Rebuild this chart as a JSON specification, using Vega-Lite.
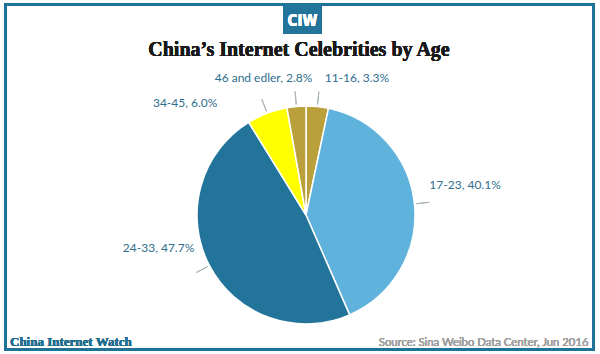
{
  "$schema": "https://vega.github.io/schema/vega-lite/v6.json",
  "width": 600,
  "height": 354,
  "autosize": {"type": "fit", "contains": "padding"},
  "padding": {"left": 3.5, "right": 4.5, "top": 2.5, "bottom": 2.5},
  "background": "white",
  "config": {"view": {"stroke": null}},
  "data": {
    "values": [
      {"age": "11-16", "value": 3.3, "label": "11-16, 3.3%"},
      {"age": "17-23", "value": 40.1, "label": "17-23, 40.1%"},
      {"age": "24-33", "value": 47.7, "label": "24-33, 47.7%"},
      {"age": "34-45", "value": 6.0, "label": "34-45, 6.0%"},
      {"age": "46 and edler", "value": 2.8, "label": "46 and edler, 2.8%"}
    ]
  },
  "layer": [
    {
      "mark": {"type": "rect", "fill": null, "stroke": "#1f7399", "strokeWidth": 3,
               "x": 0, "x2": {"expr": "width"}, "y": 0, "y2": {"expr": "height"}},
      "encoding": {}
    },
    {
      "mark": {"type": "arc", "radius": 109, "stroke": "white", "strokeWidth": 1.5,
               "x": {"expr": "width/2 + 6.5"}, "y": {"expr": "height/2 + 38"}},
      "encoding": {
        "theta": {"field": "value", "type": "quantitative", "stack": true},
        "color": {
          "field": "age", "type": "nominal", "legend": null,
          "scale": {
            "domain": ["11-16", "17-23", "24-33", "34-45", "46 and edler"],
            "range": ["#b9a03b", "#5fb2dc", "#22749a", "#ffff00", "#b9a03b"]
          }
        }
      }
    },
    {
      "mark": {"type": "arc", "radius": 124, "radius2": 111, "padAngle": 3, "filled": false,
               "stroke": "#a8b4ba", "strokeWidth": 1,
               "x": {"expr": "width/2 + 6.5"}, "y": {"expr": "height/2 + 38"}},
      "encoding": {
        "theta": {"field": "value", "type": "quantitative", "stack": true}
      }
    },
    {
      "mark": {"type": "text", "radius": 132, "align": "left", "baseline": "middle", "dx": 5, "dy": -6,
               "font": "Lato", "fontSize": 12, "fill": "#2f6e8e",
               "x": {"expr": "width/2 + 6.5"}, "y": {"expr": "height/2 + 38"}},
      "encoding": {
        "theta": {"field": "value", "type": "quantitative", "stack": true},
        "text": {"condition": {"test": "datum.age === '11-16'", "field": "label"}, "value": ""}
      }
    },
    {
      "mark": {"type": "text", "radius": 132, "align": "right", "baseline": "middle", "dx": 18, "dy": -6,
               "font": "Lato", "fontSize": 12, "fill": "#2f6e8e",
               "x": {"expr": "width/2 + 6.5"}, "y": {"expr": "height/2 + 38"}},
      "encoding": {
        "theta": {"field": "value", "type": "quantitative", "stack": true},
        "text": {"condition": {"test": "datum.age === '46 and edler'", "field": "label"}, "value": ""}
      }
    },
    {
      "mark": {"type": "text", "radius": 125, "align": "right", "baseline": "middle", "dx": -44, "dy": 5,
               "font": "Lato", "fontSize": 12, "fill": "#2f6e8e",
               "x": {"expr": "width/2 + 6.5"}, "y": {"expr": "height/2 + 38"}},
      "encoding": {
        "theta": {"field": "value", "type": "quantitative", "stack": true},
        "text": {"condition": {"test": "datum.age === '34-45'", "field": "label"}, "value": ""}
      }
    },
    {
      "mark": {"type": "text", "radius": 125, "align": "left", "baseline": "middle", "dx": -1, "dy": -17,
               "font": "Lato", "fontSize": 12, "fill": "#2f6e8e",
               "x": {"expr": "width/2 + 6.5"}, "y": {"expr": "height/2 + 38"}},
      "encoding": {
        "theta": {"field": "value", "type": "quantitative", "stack": true},
        "text": {"condition": {"test": "datum.age === '17-23'", "field": "label"}, "value": ""}
      }
    },
    {
      "mark": {"type": "text", "radius": 125, "align": "right", "baseline": "middle", "dx": -1, "dy": -25,
               "font": "Lato", "fontSize": 12, "fill": "#2f6e8e",
               "x": {"expr": "width/2 + 6.5"}, "y": {"expr": "height/2 + 38"}},
      "encoding": {
        "theta": {"field": "value", "type": "quantitative", "stack": true},
        "text": {"condition": {"test": "datum.age === '24-33'", "field": "label"}, "value": ""}
      }
    },
    {
      "mark": {"type": "rect", "fill": "#22749a", "x": 277.5, "x2": 316.5, "y": 0, "y2": 29.5},
      "encoding": {}
    },
    {
      "mark": {"type": "text", "text": "CIW", "font": "DejaVu Sans Condensed", "fontWeight": "bold",
               "fontSize": 15, "fill": "white", "align": "center", "baseline": "alphabetic",
               "x": 297, "y": 21.5},
      "encoding": {}
    },
    {
      "mark": {"type": "text", "text": "China’s Internet Celebrities by Age", "font": "Liberation Serif",
               "fontWeight": "bold", "fontSize": 20, "fill": "#1a1a1a", "align": "center",
               "baseline": "alphabetic", "x": {"expr": "width/2 - 0.5"}, "y": 51},
      "encoding": {}
    },
    {
      "mark": {"type": "text", "text": "China Internet Watch", "font": "Liberation Serif",
               "fontWeight": "bold", "fontSize": 13, "fill": "#1f6d8f", "align": "left",
               "baseline": "alphabetic", "x": 4.5, "y": 341},
      "encoding": {}
    },
    {
      "mark": {"type": "text", "text": "Source: Sina Weibo Data Center, Jun 2016", "font": "Lato",
               "fontSize": 11.3, "fill": "#a0a0a0", "align": "right",
               "baseline": "alphabetic", "x": {"expr": "width - 5"}, "y": 341},
      "encoding": {}
    }
  ]
}
